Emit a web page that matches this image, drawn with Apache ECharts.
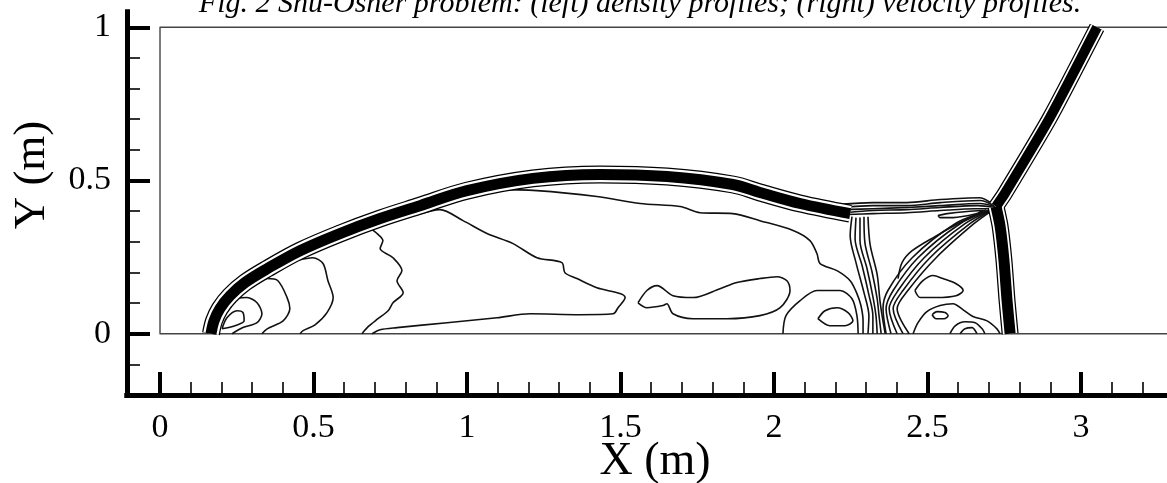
<!DOCTYPE html>
<html><head><meta charset="utf-8">
<script src="https://cdn.jsdelivr.net/npm/echarts@6/dist/echarts.min.js"></script>
<style>html,body{margin:0;padding:0;background:#fff}#c{width:1167px;height:483px}</style>
</head><body><div id="c"></div>
<script>
// ---- text & ticks ----
const titleText = 'Fig. 2 Shu-Osher problem: (left) density profiles; (right) velocity profiles.';
const xName = 'X (m)';
const yName = 'Y (m)';
const xMajorTicks = [0, 0.5, 1, 1.5, 2, 2.5, 3];
const xMinorTicks = [0.1,0.2,0.3,0.4,0.6,0.7,0.8,0.9,1.1,1.2,1.3,1.4,1.6,1.7,1.8,1.9,2.1,2.2,2.3,2.4,2.6,2.7,2.8,2.9,3.1,3.2];
const yMajorTicks = [0, 0.5, 1];
const yMinorTicks = [-0.1,0.1,0.2,0.3,0.4,0.6,0.7,0.8,0.9];

// ---- domain boundary ----
const domainBox = [[3.4,1],[0,1],[0,0],[3.4,0]];

// ---- shock bands (centre lines) ----
const bowShock = [[0.166,0],[0.176,0.042],[0.195,0.082],[0.228,0.124],[0.277,0.167],[0.349,0.212],[0.456,0.271],[0.586,0.327],[0.717,0.376],[0.847,0.418],[1.0,0.467],[1.215,0.507],[1.433,0.520],[1.651,0.513],[1.866,0.487],[1.954,0.461],[2.085,0.425],[2.248,0.392]];
const machStem = [[2.723,0.415],[2.736,0.353],[2.749,0.239],[2.759,0.108],[2.769,0]];
const incidentShock = [[2.723,0.415],[2.752,0.458],[2.899,0.706],[3.052,1.0]];

// ---- thin contour lines ----
const h1 = [[2.215,0.422],[2.322,0.428],[2.433,0.428],[2.541,0.438],[2.671,0.444],[2.713,0.422]];
const h2 = [[2.221,0.412],[2.322,0.418],[2.433,0.418],[2.541,0.428],[2.671,0.435],[2.717,0.418]];
const h3 = [[2.228,0.405],[2.322,0.408],[2.433,0.412],[2.541,0.418],[2.671,0.425],[2.72,0.415]];
const h4 = [[2.235,0.395],[2.322,0.402],[2.433,0.405],[2.541,0.412],[2.664,0.418],[2.72,0.412]];
const h5 = [[2.241,0.389],[2.322,0.392],[2.433,0.395],[2.541,0.402],[2.655,0.408],[2.72,0.408]];
const l1 = [[2.254,0.382],[2.248,0.320],[2.267,0.232],[2.293,0.134],[2.309,0.059],[2.306,0]];
const l2 = [[2.267,0.379],[2.264,0.310],[2.287,0.222],[2.309,0.127],[2.322,0.059],[2.322,0]];
const l3 = [[2.280,0.379],[2.280,0.304],[2.303,0.212],[2.322,0.121],[2.332,0.059],[2.336,0]];
const l4 = [[2.293,0.382],[2.296,0.297],[2.319,0.203],[2.336,0.114],[2.342,0.059],[2.349,0]];
const l5 = [[2.306,0.382],[2.313,0.291],[2.336,0.193],[2.345,0.108],[2.352,0.059],[2.362,0]];
const r0 = [[2.404,0.180],[2.417,0.232],[2.450,0.271],[2.524,0.317],[2.606,0.363],[2.691,0.405]];
const r1 = [[2.365,0],[2.355,0.082],[2.371,0.141],[2.450,0.248],[2.590,0.359],[2.697,0.402]];
const r2 = [[2.381,0],[2.365,0.082],[2.388,0.141],[2.469,0.248],[2.606,0.359],[2.700,0.402]];
const r3 = [[2.401,0],[2.375,0.082],[2.404,0.141],[2.489,0.248],[2.622,0.359],[2.704,0.402]];
const r4 = [[2.420,0],[2.388,0.082],[2.420,0.141],[2.508,0.248],[2.638,0.359],[2.707,0.402]];
const r5 = [[2.440,0],[2.401,0.082],[2.436,0.141],[2.528,0.248],[2.651,0.359],[2.710,0.402]];
const u1 = [[2.453,0],[2.469,0.036],[2.498,0.072],[2.541,0.092],[2.583,0.098],[2.616,0.078],[2.648,0.056],[2.694,0.042],[2.726,0.016],[2.736,0]];
const u2 = [[2.573,0],[2.590,0.026],[2.622,0.039],[2.655,0.036],[2.678,0.016],[2.687,0]];
const u3 = [[2.606,0],[2.622,0.016],[2.645,0.020],[2.661,0]];
const e1 = [[2.459,0.141],[2.485,0.173],[2.518,0.190],[2.550,0.180],[2.593,0.163],[2.616,0.141],[2.593,0.124],[2.528,0.118],[2.476,0.118],[2.459,0.141]];
const e2 = [[2.515,0.062],[2.531,0.072],[2.557,0.069],[2.567,0.059],[2.554,0.049],[2.528,0.049],[2.515,0.062]];
const e3 = [[2.534,0.386],[2.564,0.392],[2.629,0.399],[2.681,0.402],[2.661,0.392],[2.583,0.379],[2.541,0.379],[2.534,0.386]];
const c1 = [[1.075,0.471],[1.228,0.467],[1.423,0.448],[1.564,0.425],[1.694,0.415],[1.759,0.395],[1.866,0.392],[1.954,0.369],[2.062,0.337],[2.117,0.304],[2.140,0.261],[2.150,0.229],[2.205,0.206],[2.248,0.173],[2.270,0.131],[2.283,0.092],[2.290,0.042],[2.290,0]];
const c2 = [[0.840,0.389],[0.912,0.405],[0.987,0.369],[1.065,0.327],[1.150,0.294],[1.228,0.248],[1.309,0.232],[1.319,0.199],[1.358,0.180],[1.423,0.150],[1.498,0.131],[1.515,0.118],[1.492,0.085],[1.476,0.065],[1.368,0.062],[1.205,0.065],[1.098,0.052],[0.935,0.036],[0.772,0.020],[0.717,0.013],[0.691,0]];
const c3 = [[0.691,0.340],[0.707,0.327],[0.726,0.304],[0.717,0.278],[0.759,0.248],[0.788,0.206],[0.772,0.173],[0.792,0.134],[0.759,0.101],[0.743,0.075],[0.710,0.049],[0.678,0.023],[0.658,0]];
const c4 = [[0.202,0.016],[0.218,0.052],[0.251,0.075],[0.270,0.069],[0.274,0.042],[0.244,0.026],[0.202,0.016]];
const c5 = [[0.221,0.108],[0.244,0.114],[0.283,0.118],[0.316,0.101],[0.332,0.065],[0.316,0.036],[0.270,0.020],[0.235,0]];
const c6 = [[0.293,0.157],[0.319,0.170],[0.349,0.180],[0.384,0.173],[0.414,0.118],[0.423,0.082],[0.401,0.042],[0.349,0.016],[0.332,0]];
const c7 = [[0.433,0.232],[0.446,0.239],[0.498,0.248],[0.531,0.229],[0.547,0.173],[0.564,0.118],[0.544,0.069],[0.505,0.029],[0.466,0.010],[0.456,0]];
const c8 = [[1.557,0.101],[1.586,0.141],[1.619,0.157],[1.671,0.124],[1.736,0.118],[1.824,0.147],[1.879,0.167],[1.954,0.180],[2.010,0.186],[2.042,0.173],[2.052,0.141],[2.020,0.085],[1.954,0.059],[1.847,0.049],[1.736,0.049],[1.671,0.065],[1.651,0.098],[1.638,0.092],[1.586,0.085],[1.557,0.101]];
const c10 = [[2.029,0],[2.039,0.059],[2.085,0.108],[2.140,0.141],[2.215,0.141],[2.254,0.114],[2.270,0.059],[2.274,0]];
const c11 = [[2.143,0.049],[2.166,0.075],[2.205,0.085],[2.241,0.069],[2.257,0.042],[2.231,0.026],[2.182,0.026],[2.143,0.049]];

const thinLines = [h1,h2,h3,h4,h5,l1,l2,l3,l4,l5,r0,r1,r2,r3,r4,r5,u1,u2,u3,e1,e2,e3,c1,c2,c3,c4,c5,c6,c7,c8,c10,c11];

// ---- build chart ----
const SERIF = '"Liberation Serif", "Times New Roman", serif';
function lineSeries(data, color, width, z, smooth) {
  return {type:'line', data:data, showSymbol:false, symbol:'none', smooth:smooth, z:z,
    silent:true, animation:false, clip:true,
    lineStyle:{color:color, width:width, cap:'butt', join:'round'}, itemStyle:{color:color},
    emphasis:{disabled:true}};
}
const series = [];
series.push(lineSeries(domainBox, '#444', 1.4, 1, false));
thinLines.forEach(d => series.push(lineSeries(d, '#111', 1.6, 2, 0.3)));
const bands = [[bowShock, 18, 15.5, 11, 0.35], [machStem, 17, 14.5, 11, 0.2], [incidentShock, 16, 13.5, 10, 0.2]];
bands.forEach(b => series.push(lineSeries(b[0], '#000', b[1], 3, b[4])));
bands.forEach(b => series.push(lineSeries(b[0], '#fff', b[2], 4, b[4])));
bands.forEach(b => series.push(lineSeries(b[0], '#000', b[3], 5, b[4])));

function axisBase(pos, min, max, ticks, major, labels) {
  return {type:'value', position:pos, min:min, max:max, scale:false,
    axisLine:{show:true, onZero:false, lineStyle:{color:'#000', width:5, cap:'square'}},
    axisTick:{show:true, inside:true, customValues:ticks, length: major ? 23 : 13,
      lineStyle:{color:'#000', width: major ? 4 : 1.6}},
    axisLabel:{show:labels, customValues:ticks, color:'#000', fontFamily:SERIF, fontSize:34, margin: pos==='bottom'?16:16},
    splitLine:{show:false}, minorTick:{show:false}};
}
const XMIN = -0.1075, XMAX = 3.28, YMIN = -0.2, YMAX = 1.05;
const option = {
  backgroundColor:'#fff',
  animation:false,
  grid:{left:127, top:12, width:1040, height:383, containLabel:false},
  xAxis:[axisBase('bottom', XMIN, XMAX, xMinorTicks, false, false), axisBase('bottom', XMIN, XMAX, xMajorTicks, true, true)],
  yAxis:[axisBase('left', YMIN, YMAX, yMinorTicks, false, false), axisBase('left', YMIN, YMAX, yMajorTicks, true, true)],
  series: series.map(s => Object.assign(s, {xAxisIndex:1, yAxisIndex:1})),
  graphic:[
    {type:'text', x:640, y:4, z:10, style:{text:titleText, font:'italic 30px ' + SERIF, fill:'#000', align:'center', verticalAlign:'middle', textAlign:'center', textVerticalAlign:'middle'}},
    {type:'text', x:655, y:462, z:10, style:{text:xName, font:'46px ' + SERIF, fill:'#000', align:'center', verticalAlign:'middle', textAlign:'center', textVerticalAlign:'middle'}},
    {type:'text', x:32, y:175, z:10, rotation:Math.PI/2, style:{text:yName, font:'45px ' + SERIF, fill:'#000', align:'center', verticalAlign:'middle', textAlign:'center', textVerticalAlign:'middle'}}
  ]
};
const chart = echarts.init(document.getElementById('c'), null, {renderer:'canvas'});
chart.setOption(option);
</script>
</body></html>
